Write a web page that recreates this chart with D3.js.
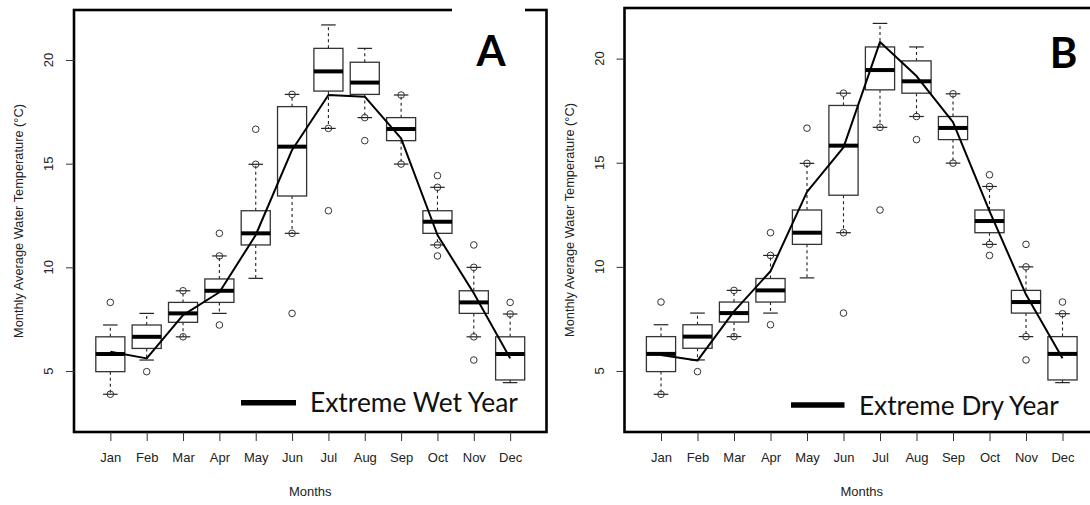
<!DOCTYPE html>
<html>
<head>
<meta charset="utf-8">
<script src="https://cdn.jsdelivr.net/npm/d3@7"></script>
<style>
  html, body { margin: 0; padding: 0; background: #ffffff; }
  svg { display: block; }
</style>
</head>
<body>
<svg id="chart" width="1090" height="505"></svg>
<script>
// ---------------- DATA ----------------
const months = ["Jan","Feb","Mar","Apr","May","Jun","Jul","Aug","Sep","Oct","Nov","Dec"];
const yTicks = [5, 10, 15, 20];

// Box statistics (shared by both panels)
const whiskerLow  = [3.88, 5.53, 6.65, 7.78, 9.47, 11.64, 16.70, 17.22, 14.98, 11.08, 6.65, 4.44];
const q1          = [4.97, 6.09, 7.35, 8.31, 11.08, 13.44, 18.50, 18.34, 16.11, 11.64, 7.78, 4.57];
const medians     = [5.82, 6.65, 7.78, 8.87, 11.64, 15.82, 19.45, 18.91, 16.67, 12.20, 8.31, 5.82];
const q3          = [6.65, 7.22, 8.31, 9.44, 12.73, 17.75, 20.56, 19.89, 17.22, 12.73, 8.87, 6.65];
const whiskerHigh = [7.22, 7.78, 8.87, 10.55, 14.97, 18.34, 21.69, 20.56, 18.31, 13.86, 10.00, 7.75];
const outliers = [
  [8.31, 3.88],
  [4.97],
  [8.87, 6.65],
  [11.64, 10.55, 7.22],
  [16.66, 14.97],
  [18.34, 11.64, 7.78],
  [16.70, 12.73],
  [17.22, 16.11],
  [18.31, 14.98],
  [14.42, 13.86, 11.08, 10.55],
  [11.08, 10.00, 6.65, 5.53],
  [8.31, 7.75]
];

// Extreme-year lines
const wetYear = [5.93, 5.61, 7.70, 8.80, 11.56, 15.66, 18.31, 18.23, 16.22, 11.56, 8.75, 5.61];
const dryYear = [5.77, 5.50, 7.86, 9.79, 13.60, 15.74, 20.80, 19.16, 16.95, 12.68, 8.67, 5.61];

const panelLabels = ["A", "B"];
const legendLabels = ["Extreme Wet Year", "Extreme Dry Year"];
const xTitle = "Months";
const yTitle = "Monthly Average Water Temperature (°C)";

// ---------------- LAYOUT ----------------
const svg = d3.select("#chart");
const axisFont = "'Liberation Sans', Arial, sans-serif";
const labelFont = "Lato, 'Open Sans', sans-serif";

const panels = [
  { left: 74,  right: 546.5, top: 10, bottom: 432, yDom: [2.06, 22.41], line: wetYear, legend: legendLabels[0], label: panelLabels[0],
    legendX: 241, legendW: 55, legendY: 402.7, textX: 310, textW: 208, textBase: 412.3, labelX: 491, labelBase: 66, whiteBox: [452, 0, 73, 84] },
  { left: 624.5, right: 1099, top: 8, bottom: 432, yDom: [2.07, 22.43], line: dryYear, legend: legendLabels[1], label: panelLabels[1],
    legendX: 791, legendW: 53.5, legendY: 405, textX: 859, textW: 200, textBase: 415, labelX: 1063.5, labelBase: 68, whiteBox: null }
];

panels.forEach(p => {
  const g = svg.append("g");
  const x = d3.scaleLinear().domain([0, 13]).range([p.left, p.right]);
  const y = d3.scaleLinear().domain(p.yDom).range([p.bottom, p.top]);
  const bw = x(0.8) - x(0);          // box width
  const sw = bw / 2;                 // staple width

  // boxes
  months.forEach((m, i) => {
    const cx = x(i + 1);
    // whiskers (dashed)
    g.append("line").attr("x1", cx).attr("x2", cx).attr("y1", y(q3[i])).attr("y2", y(whiskerHigh[i]))
      .attr("stroke", "#222").attr("stroke-width", 1.1).attr("stroke-dasharray", "3,3");
    g.append("line").attr("x1", cx).attr("x2", cx).attr("y1", y(q1[i])).attr("y2", y(whiskerLow[i]))
      .attr("stroke", "#222").attr("stroke-width", 1.1).attr("stroke-dasharray", "3,3");
    // staples
    [whiskerHigh[i], whiskerLow[i]].forEach(v => {
      g.append("line").attr("x1", cx - sw / 2).attr("x2", cx + sw / 2).attr("y1", y(v)).attr("y2", y(v))
        .attr("stroke", "#222").attr("stroke-width", 1.2);
    });
    // box
    g.append("rect").attr("x", cx - bw / 2).attr("y", y(q3[i])).attr("width", bw).attr("height", y(q1[i]) - y(q3[i]))
      .attr("fill", "#fff").attr("stroke", "#333").attr("stroke-width", 1.3);
    // median
    g.append("line").attr("x1", cx - bw / 2).attr("x2", cx + bw / 2).attr("y1", y(medians[i])).attr("y2", y(medians[i]))
      .attr("stroke", "#000").attr("stroke-width", 4);
    // outliers
    outliers[i].forEach(v => {
      g.append("circle").attr("cx", cx).attr("cy", y(v)).attr("r", 3.3)
        .attr("fill", "none").attr("stroke", "#333").attr("stroke-width", 1);
    });
  });

  // line of extreme year
  const lineGen = d3.line().x((d, i) => x(i + 1)).y(d => y(d));
  g.append("path").datum(p.line).attr("d", lineGen)
    .attr("fill", "none").attr("stroke", "#000").attr("stroke-width", 2).attr("stroke-linejoin", "round");

  // plot border
  g.append("rect").attr("x", p.left).attr("y", p.top).attr("width", p.right - p.left).attr("height", p.bottom - p.top)
    .attr("fill", "none").attr("stroke", "#000").attr("stroke-width", 2.6);

  // label white box (covers border in panel A)
  if (p.whiteBox) {
    g.append("rect").attr("x", p.whiteBox[0]).attr("y", p.whiteBox[1]).attr("width", p.whiteBox[2]).attr("height", p.whiteBox[3])
      .attr("fill", "#fff");
  }

  // panel label
  g.append("text").attr("x", p.labelX).attr("y", p.labelBase).attr("text-anchor", "middle")
    .attr("font-family", labelFont).attr("font-weight", "bold").attr("font-size", 42).attr("fill", "#000")
    .text(p.label);

  // x axis
  const xAxis = d3.axisBottom(x).tickValues(d3.range(1, 13)).tickFormat(d => months[d - 1]).tickSize(9).tickPadding(12);
  const xa = g.append("g").attr("transform", `translate(0,${p.bottom})`).call(xAxis);
  xa.select(".domain").remove();
  xa.selectAll("line").attr("stroke", "#333").attr("stroke-width", 1);
  xa.selectAll("text").attr("font-family", axisFont).attr("font-size", 13).attr("fill", "#222");

  // y axis
  const yAxis = d3.axisLeft(y).tickValues(yTicks).tickSize(8).tickFormat(d3.format("d"));
  const ya = g.append("g").attr("transform", `translate(${p.left},0)`).call(yAxis);
  ya.select(".domain").remove();
  ya.selectAll("line").attr("stroke", "#333").attr("stroke-width", 1);
  ya.selectAll("text").remove();
  yTicks.forEach(t => {
    g.append("text").attr("transform", `translate(${p.left - 21},${y(t)}) rotate(-90)`)
      .attr("text-anchor", "middle").attr("font-family", axisFont).attr("font-size", 13).attr("fill", "#222")
      .text(t);
  });

  // axis titles
  g.append("text").attr("x", (p.left + p.right) / 2).attr("y", 495.5).attr("text-anchor", "middle")
    .attr("font-family", axisFont).attr("font-size", 13).attr("fill", "#222").text(xTitle);
  g.append("text").attr("transform", `translate(${p.left - 51},${(p.top + p.bottom) / 2}) rotate(-90)`)
    .attr("text-anchor", "middle").attr("font-family", axisFont).attr("font-size", 12.8).attr("fill", "#222").text(yTitle);

  // legend
  g.append("line").attr("x1", p.legendX).attr("x2", p.legendX + p.legendW).attr("y1", p.legendY).attr("y2", p.legendY)
    .attr("stroke", "#000").attr("stroke-width", 5.5);
  const lt = g.append("text").attr("x", p.textX).attr("y", p.textBase)
    .attr("font-family", labelFont).attr("font-size", 26).attr("fill", "#111").text(p.legend);
  const w = lt.node().getComputedTextLength();
  if (w > 0) lt.attr("font-size", 26 * p.textW / w);
});
</script>
</body>
</html>
